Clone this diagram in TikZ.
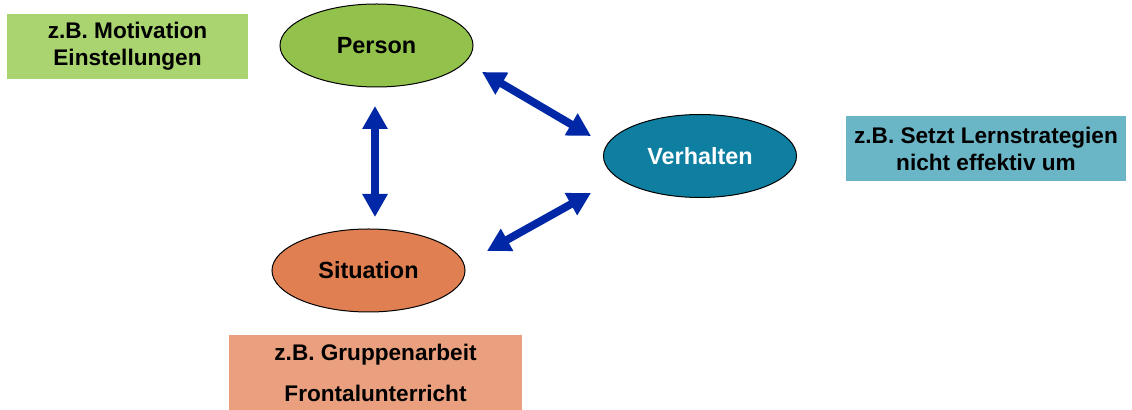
\documentclass[tikz,border=0pt]{standalone}
\usepackage{fontspec}
\setmainfont{Liberation Sans}
\usetikzlibrary{shapes.geometric,arrows.meta}

\definecolor{personfill}{HTML}{92C24C}
\definecolor{personbox}{HTML}{A9D46F}
\definecolor{verhfill}{HTML}{0E7FA0}
\definecolor{verhbox}{HTML}{6AB5C6}
\definecolor{sitfill}{HTML}{E08052}
\definecolor{sitbox}{HTML}{EAA07E}
\definecolor{arrowblue}{HTML}{0027A6}

\tikzset{
  factor/.style={ellipse, draw=black, line width=0.5pt, inner sep=0pt,
    minimum width=96.5pt, minimum height=41.5pt,
    font=\fontsize{11.7pt}{14pt}\selectfont\bfseries},
  example/.style={rectangle, inner sep=0pt, align=center,
    font=\fontsize{11.3pt}{13.5pt}\selectfont\bfseries},
  link/.style={draw=arrowblue, line width=3.9pt,
    {Triangle[width=12pt,length=11.5pt]}-{Triangle[width=12pt,length=11.5pt]}}
}

\begin{document}
\begin{tikzpicture}[x=0.5pt, y=-0.5pt]
  \useasboundingbox (0,0) rectangle (1132,410);

  % three factors
  \node[factor, fill=personfill] (p) at (376.5,45.5) {Person};
  \node[factor, fill=verhfill, text=white] (v) at (700,156) {Verhalten};
  \node[factor, fill=sitfill] (s) at (368.5,270.5) {Situation};

  % example boxes
  \node[example, fill=personbox, minimum width=120.5pt, minimum height=32.5pt] (pb) at (127.5,46.5)
    {z.B. Motivation\\Einstellungen};
  \node[example, fill=verhbox, minimum width=140pt, minimum height=32.5pt] (vb) at (986,148.5)
    {z.B. Setzt Lernstrategien\\nicht effektiv um};
  \node[example, fill=sitbox, minimum width=146.5pt, minimum height=37.5pt,
    font=\fontsize{11.3pt}{20.5pt}\selectfont\bfseries] (sb) at (375.5,372.5)
    {z.B. Gruppenarbeit\\Frontalunterricht};

  % arrow end points
  \coordinate (ps1) at (375,106);
  \coordinate (ps2) at (375,217);
  \coordinate (pv1) at (482,72);
  \coordinate (pv2) at (591,136);
  \coordinate (sv1) at (487,251);
  \coordinate (sv2) at (591,193);

  % reciprocal influences
  \draw[link] (ps1) -- (ps2);
  \draw[link] (pv1) -- (pv2);
  \draw[link] (sv1) -- (sv2);
\end{tikzpicture}
\end{document}
